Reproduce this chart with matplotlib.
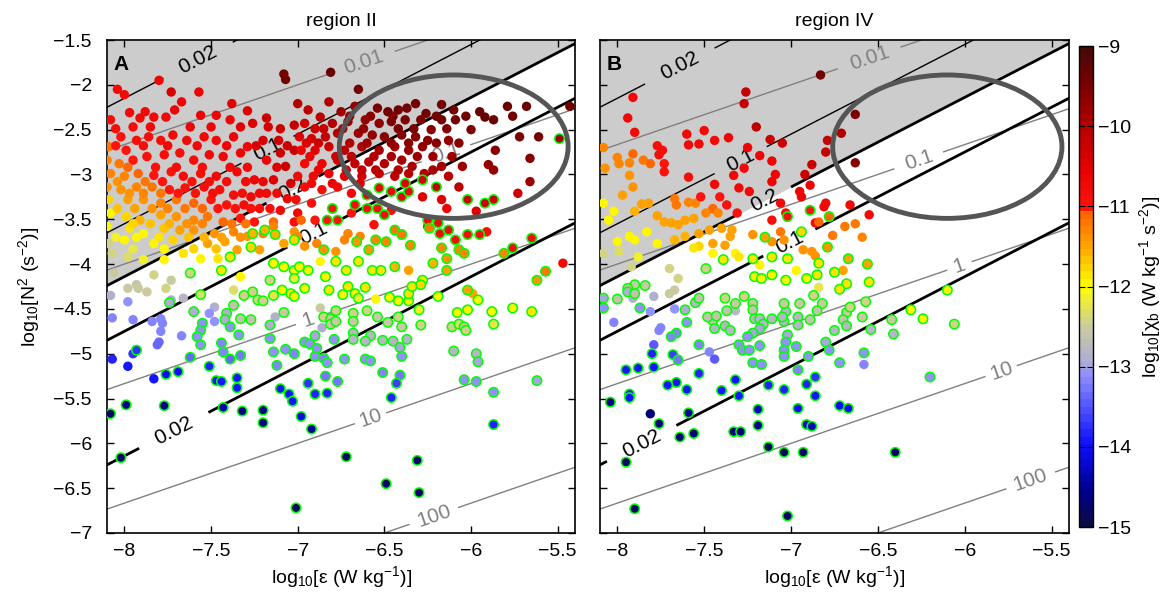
import numpy as np
import matplotlib
matplotlib.use("Agg")
import matplotlib.pyplot as plt
from matplotlib.colors import LinearSegmentedColormap, Normalize
from matplotlib.patches import Ellipse
from matplotlib.ticker import FuncFormatter, MultipleLocator

plt.rcParams['font.family'] = ['Liberation Sans', 'DejaVu Sans']
plt.rcParams['mathtext.default'] = 'regular'
plt.rcParams['axes.linewidth'] = 1.2

# (log10 eps, log10 N^2, log10 chi_b) -- plain markers and green-ringed markers
a_plain = [
    (-8.04,-2.05,-10.7),(-8.00,-2.11,-10.7),(-7.80,-1.95,-10.6),(-7.73,-2.08,-10.4),(-7.57,-2.08,-10.6),(-7.08,-1.88,-9.4),(-7.07,-1.94,-9.4),
    (-7.67,-2.19,-10.6),(-7.71,-2.28,-10.6),(-7.88,-2.30,-10.7),(-7.97,-2.31,-10.7),(-8.08,-2.39,-10.8),(-7.91,-2.37,-10.7),(-7.83,-2.36,-10.7),(-7.76,-2.36,-10.7),
    (-8.05,-2.49,-10.8),(-7.56,-2.34,-10.6),(-7.47,-2.34,-10.6),(-7.38,-2.21,-10.5),(-7.29,-2.29,-10.5),(-7.39,-2.39,-10.6),(-7.18,-2.37,-10.3),(-7.00,-2.21,-10.0),
    (-7.02,-2.45,-10.2),(-7.26,-2.43,-10.5),(-7.10,-2.49,-10.3),(-7.11,-2.62,-10.3),
    (-8.09,-2.69,-11.2),(-8.02,-2.58,-10.9),(-7.99,-2.73,-11.0),(-7.93,-2.62,-10.8),(-7.86,-2.58,-10.8),(-7.79,-2.62,-10.8),(-7.72,-2.56,-10.7),(-7.64,-2.62,-10.7),
    (-7.54,-2.58,-10.7),(-7.47,-2.62,-10.7),(-7.37,-2.58,-10.6),(-7.29,-2.69,-10.6),(-7.20,-2.62,-10.4),(-7.10,-2.76,-10.3),(-7.02,-2.73,-10.2),
    (-8.10,-2.84,-11.3),(-8.03,-2.88,-11.2),(-7.95,-2.84,-11.0),(-7.87,-2.80,-10.9),(-7.77,-2.78,-10.8),(-7.68,-2.76,-10.8),(-7.60,-2.84,-10.8),(-7.51,-2.78,-10.7),
    (-7.43,-2.80,-10.7),(-7.33,-2.76,-10.6),(-7.18,-2.84,-10.6),(-7.07,-2.91,-10.3),
    (-8.08,-2.99,-11.3),(-8.00,-3.02,-11.3),(-7.92,-2.99,-11.1),(-7.83,-3.01,-11.0),(-7.73,-2.97,-10.9),(-7.66,-3.02,-10.8),(-7.56,-2.99,-10.8),(-7.47,-3.02,-10.7),
    (-7.35,-2.97,-10.7),(-7.25,-3.06,-10.6),(-7.14,-3.06,-10.5),(-7.04,-3.10,-10.4),
    (-8.10,-3.14,-11.4),(-8.02,-3.17,-11.4),(-7.93,-3.14,-11.3),(-7.84,-3.14,-11.2),(-7.74,-3.17,-11.0),(-7.65,-3.15,-10.9),(-7.54,-3.14,-10.8),(-7.45,-3.17,-10.8),
    (-7.37,-3.23,-10.8),(-7.27,-3.25,-10.7),(-7.18,-3.21,-10.7),(-7.06,-3.27,-10.6),
    (-8.09,-3.28,-11.8),(-7.98,-3.28,-11.5),(-7.89,-3.28,-11.4),(-7.79,-3.32,-11.3),(-7.70,-3.28,-11.2),(-7.60,-3.32,-11.1),(-7.50,-3.28,-11.0),(-7.41,-3.34,-10.9),
    (-7.31,-3.34,-10.8),(-7.22,-3.38,-10.8),(-7.10,-3.40,-10.7),(-7.00,-3.43,-10.7),
    (-8.08,-3.43,-12.0),(-7.99,-3.47,-11.8),(-7.91,-3.51,-11.6),(-7.79,-3.45,-11.5),(-7.70,-3.47,-11.4),(-7.60,-3.51,-11.3),(-7.52,-3.47,-11.2),(-7.43,-3.53,-11.1),
    (-7.33,-3.49,-11.0),(-7.25,-3.53,-11.0),(-7.14,-3.53,-11.1),(-7.02,-3.53,-10.8),
    (-8.10,-3.58,-12.0),(-7.97,-3.60,-11.9),(-7.89,-3.66,-12.0),(-7.77,-3.60,-11.7),(-7.68,-3.62,-11.5),(-7.60,-3.62,-11.4),(-7.48,-3.66,-11.4),(-7.37,-3.64,-11.3),
    (-7.29,-3.69,-11.4),(-7.20,-3.66,-11.3),(-7.14,-3.58,-11.3),(-7.02,-3.64,-11.4),
    (-8.09,-3.77,-12.4),(-8.00,-3.73,-12.0),(-7.83,-3.77,-12.0),(-7.72,-3.73,-11.8),(-7.66,-3.88,-11.9),(-7.52,-3.77,-11.5),(-7.42,-3.75,-11.5),(-7.35,-3.84,-11.5),
    (-7.22,-3.84,-11.5),(-7.08,-3.77,-11.5),
    (-8.07,-3.88,-12.4),(-7.98,-3.92,-12.3),(-7.89,-3.95,-12.1),(-7.77,-3.95,-12.0),(-7.56,-3.94,-12.0),(-7.46,-3.94,-11.9),
    (-7.33,-4.14,-12.0),(-8.06,-4.10,-12.5),(-7.83,-4.12,-12.4),(-7.73,-4.18,-12.5),(-7.93,-4.23,-12.6),
    (-7.95,-2.47,-10.8),(-7.85,-2.47,-10.7),(-7.62,-2.47,-10.6),(-7.50,-2.47,-10.6),(-7.33,-2.47,-10.5),(-7.17,-2.47,-10.4),
    (-8.05,-2.68,-11.0),(-7.89,-2.68,-10.8),(-7.75,-2.68,-10.7),(-7.58,-2.68,-10.7),(-7.41,-2.68,-10.6),(-7.24,-2.68,-10.5),(-7.06,-2.68,-10.3),
    (-7.98,-2.92,-11.1),(-7.82,-2.92,-10.9),(-7.70,-2.92,-10.8),(-7.55,-2.92,-10.8),(-7.39,-2.92,-10.7),(-7.29,-2.92,-10.7),(-7.12,-2.92,-10.5),
    (-8.04,-3.08,-11.4),(-7.88,-3.08,-11.2),(-7.78,-3.08,-11.0),(-7.61,-3.08,-10.9),(-7.51,-3.08,-10.8),(-7.41,-3.08,-10.8),(-7.30,-3.08,-10.7),(-7.20,-3.08,-10.6),
    (-7.97,-3.21,-11.4),(-7.89,-3.21,-11.3),(-7.79,-3.21,-11.2),(-7.69,-3.21,-11.0),(-7.59,-3.21,-10.9),(-7.49,-3.21,-10.8),(-7.32,-3.21,-10.8),(-7.22,-3.21,-10.7),
    (-7.12,-3.21,-10.7),
    (-8.04,-3.38,-11.7),(-7.94,-3.38,-11.5),(-7.84,-3.38,-11.4),(-7.75,-3.38,-11.3),(-7.65,-3.38,-11.2),(-7.55,-3.38,-11.1),(-7.46,-3.38,-11.0),(-7.36,-3.38,-10.9),
    (-7.27,-3.38,-10.9),(-7.16,-3.38,-10.8),
    (-7.95,-3.55,-11.8),(-7.85,-3.55,-11.7),(-7.74,-3.55,-11.6),(-7.64,-3.55,-11.4),(-7.55,-3.55,-11.3),(-7.38,-3.55,-11.2),(-7.30,-3.55,-11.2),
    (-8.05,-3.70,-12.1),(-7.93,-3.70,-12.0),(-7.80,-3.70,-11.9),(-7.63,-3.70,-11.7),(-7.54,-3.70,-11.6),(-7.44,-3.70,-11.5),(-7.33,-3.70,-11.4),
    (-7.95,-3.83,-12.2),(-7.77,-3.83,-12.0),(-7.60,-3.83,-11.8),(-7.47,-3.83,-11.7),
    (-6.81,-1.86,-9.3),(-6.65,-2.05,-9.4),(-6.82,-2.19,-10.0),(-6.94,-2.28,-10.1),(-6.87,-2.36,-10.1),(-6.75,-2.30,-9.8),(-6.67,-2.24,-9.7),(-6.54,-2.26,-9.5),
    (-6.48,-2.30,-9.4),(-6.42,-2.28,-9.4),(-6.37,-2.26,-9.4),(-6.32,-2.21,-9.4),(-6.26,-2.32,-9.4),(-6.17,-2.22,-9.4),(-6.10,-2.28,-9.4),(-5.95,-2.30,-9.3),
    (-5.92,-2.36,-9.3),(-5.87,-2.39,-9.3),(-6.00,-2.50,-9.5),(-6.17,-2.39,-9.4),(-6.09,-2.39,-9.4),
    (-6.96,-2.43,-10.4),(-6.90,-2.49,-10.3),(-6.80,-2.43,-10.0),(-6.71,-2.41,-9.8),(-6.61,-2.39,-9.7),(-6.53,-2.43,-9.6),(-6.46,-2.41,-9.5),(-6.38,-2.39,-9.5),
    (-6.29,-2.39,-9.5),(-6.23,-2.50,-9.6),
    (-6.99,-2.58,-10.5),(-6.92,-2.60,-10.4),(-6.84,-2.58,-10.2),(-6.77,-2.54,-10.0),(-6.65,-2.54,-9.8),(-6.57,-2.56,-9.7),(-6.50,-2.58,-9.6),(-6.40,-2.56,-9.6),
    (-6.32,-2.58,-9.6),(-6.25,-2.62,-9.6),(-6.13,-2.62,-9.7),(-5.86,-2.73,-9.6),
    (-6.98,-2.73,-10.6),(-6.90,-2.73,-10.5),(-6.82,-2.69,-10.3),(-6.73,-2.73,-10.1),(-6.63,-2.69,-10.0),(-6.53,-2.73,-9.9),(-6.44,-2.69,-9.8),(-6.36,-2.73,-9.8),
    (-6.28,-2.69,-9.7),(-6.11,-2.80,-9.8),(-6.05,-2.91,-9.8),(-5.90,-2.89,-9.7),(-5.87,-2.95,-9.7),
    (-6.96,-2.88,-10.7),(-6.86,-2.88,-10.6),(-6.77,-2.84,-10.4),(-6.67,-2.88,-10.2),(-6.59,-2.86,-10.1),(-6.50,-2.88,-10.0),(-6.40,-2.84,-9.9),(-6.34,-2.91,-9.9),
    (-6.27,-2.99,-10.0),(-6.17,-2.91,-9.9),(-6.13,-3.02,-10.0),
    (-7.00,-3.02,-10.7),(-6.91,-3.02,-10.7),(-6.82,-2.99,-10.6),(-6.73,-3.02,-10.5),(-6.63,-3.02,-10.4),(-6.53,-2.99,-10.2),(-6.44,-3.02,-10.1),(-6.36,-2.99,-10.1),
    (-6.07,-3.14,-10.1),(-5.97,-3.41,-10.5),
    (-6.70,-2.35,-9.8),(-6.58,-2.35,-9.6),(-6.45,-2.35,-9.5),(-6.20,-2.35,-9.4),(-6.03,-2.35,-9.4),
    (-6.85,-2.49,-10.2),(-6.74,-2.49,-9.9),(-6.62,-2.49,-9.7),(-6.42,-2.49,-9.5),(-6.33,-2.49,-9.5),(-6.14,-2.49,-9.5),
    (-6.95,-2.65,-10.5),(-6.88,-2.65,-10.3),(-6.70,-2.65,-10.0),(-6.60,-2.65,-9.8),(-6.46,-2.65,-9.7),(-6.36,-2.65,-9.6),(-6.20,-2.65,-9.6),(-6.07,-2.65,-9.6),
    (-6.93,-2.80,-10.6),(-6.78,-2.80,-10.3),(-6.69,-2.80,-10.1),(-6.56,-2.80,-10.0),(-6.46,-2.80,-9.9),(-6.31,-2.80,-9.8),(-6.22,-2.80,-9.8),
    (-6.88,-2.95,-10.6),(-6.72,-2.95,-10.4),(-6.63,-2.95,-10.2),(-6.55,-2.95,-10.1),(-6.42,-2.95,-10.0),(-6.22,-2.95,-9.9),
    (-6.92,-3.10,-10.7),(-6.80,-3.10,-10.6),(-6.64,-3.10,-10.5),
    (-6.96,-3.14,-10.8),(-6.86,-3.17,-10.8),(-6.77,-3.14,-10.7),(-6.69,-3.21,-10.7),(-6.28,-3.25,-10.5),(-6.17,-3.28,-10.5),(-6.14,-3.38,-10.6),
    (-7.01,-3.28,-10.8),(-6.92,-3.32,-10.9),(-6.46,-3.40,-10.8),(-6.69,-3.43,-10.9),(-6.90,-3.51,-11.0),(-6.98,-3.51,-11.1),(-6.56,-3.56,-10.9),(-6.25,-3.58,-10.7),
    (-5.91,-3.64,-10.8),
    (-7.00,-3.69,-11.3),(-6.96,-3.80,-11.4),(-6.89,-3.77,-11.3),(-6.78,-3.86,-11.4),(-6.73,-3.73,-11.3),(-6.71,-3.66,-11.3),(-6.64,-3.69,-11.3),
    (-6.36,-4.07,-11.5),(-6.87,-3.97,-12.0),
    (-7.98,-4.27,-12.5),(-7.92,-4.27,-12.5),(-7.87,-4.31,-12.5),(-7.76,-4.27,-12.4),(-8.08,-4.35,-12.9),(-7.98,-4.42,-13.1),(-7.73,-4.40,-12.9),(-7.66,-4.38,-12.8),
    (-7.48,-4.48,-12.9),(-7.51,-4.55,-13.1),(-7.48,-4.64,-13.1),(-7.37,-4.29,-12.3),
    (-8.07,-4.60,-13.2),(-7.95,-4.62,-13.2),(-7.84,-4.64,-13.2),(-7.79,-4.61,-13.2),(-7.78,-4.66,-13.2),(-7.79,-4.75,-13.2),(-7.80,-4.87,-13.4),(-7.81,-4.90,-13.4),
    (-7.67,-4.80,-13.2),(-7.95,-5.00,-13.7),(-8.07,-5.06,-13.8),(-7.98,-5.14,-13.9),(-7.83,-5.28,-13.9),(-7.13,-4.59,-12.9),
    (-6.55,-4.39,-12.0),(-5.99,-4.33,-11.5),(-6.87,-4.49,-12.5),(-6.86,-4.71,-12.9),
    (-5.47,-3.99,-10.7),(-5.43,-2.24,-9.4),(-5.68,-2.24,-9.3),(-5.61,-2.58,-9.4),(-5.66,-2.82,-9.6),(-5.66,-3.08,-9.8),(-5.73,-3.21,-10.3),(-5.72,-2.58,-9.5),
    (-5.76,-2.35,-9.4),(-5.79,-2.24,-9.3),
]
a_ring = [
    (-7.39,-3.92,-11.9),(-7.27,-3.81,-11.8),(-7.13,-3.67,-11.6),(-7.19,-3.62,-11.6),(-7.26,-3.66,-11.6),(-7.02,-3.73,-11.8),(-7.14,-3.99,-12.0),(-7.08,-4.03,-12.0),
    (-7.02,-4.07,-12.0),(-7.02,-4.16,-12.1),(-7.44,-4.07,-11.9),(-7.62,-4.10,-12.4),(-7.16,-4.18,-12.4),
    (-6.20,-3.14,-10.2),(-6.02,-3.28,-10.3),(-5.92,-3.32,-10.3),(-5.87,-3.28,-10.3),
    (-6.60,-3.23,-10.6),(-6.53,-3.15,-10.6),(-6.46,-3.19,-10.6),(-6.40,-3.25,-10.6),(-6.36,-3.19,-10.6),(-6.38,-3.10,-10.5),(-6.28,-3.06,-10.4),
    (-6.80,-3.38,-10.9),(-6.67,-3.34,-10.8),(-6.60,-3.38,-10.8),(-6.54,-3.38,-10.8),(-6.50,-3.45,-10.8),(-6.77,-3.51,-10.9),(-6.83,-3.51,-11.0),
    (-6.25,-3.51,-10.7),(-6.19,-3.54,-10.7),(-6.18,-3.66,-10.7),(-6.13,-3.62,-10.7),(-6.02,-3.67,-10.8),(-5.95,-3.67,-10.8),(-6.09,-3.73,-10.8),
    (-6.85,-3.84,-11.4),(-6.66,-3.75,-11.4),(-6.59,-3.84,-11.4),(-6.55,-3.73,-11.3),(-6.49,-3.75,-11.3),(-6.44,-3.62,-11.2),(-6.40,-3.67,-11.2),(-6.35,-3.79,-11.3),
    (-6.24,-3.60,-11.2),(-6.17,-3.82,-11.3),(-6.14,-3.94,-11.4),(-6.07,-3.84,-11.3),(-6.04,-3.88,-11.3),
    (-6.78,-3.97,-11.9),(-6.72,-4.07,-11.9),(-6.65,-3.97,-11.9),(-6.57,-4.07,-11.9),(-6.52,-4.07,-11.9),(-6.44,-4.03,-11.6),(-6.28,-4.18,-12.0),(-6.22,-3.99,-11.6),
    (-6.14,-4.07,-11.5),(-6.94,-4.07,-12.0),(-6.84,-4.14,-12.0),(-6.99,-4.03,-12.0),
    (-7.74,-4.43,-12.9),(-7.56,-4.34,-12.3),(-7.60,-4.53,-12.9),(-7.41,-4.55,-12.9),(-7.37,-4.46,-12.6),(-7.31,-4.35,-12.4),(-7.42,-4.62,-12.9),(-7.39,-4.70,-13.1),
    (-7.33,-4.61,-12.6),(-7.27,-4.62,-12.6),(-7.34,-4.79,-13.1),(-7.44,-4.88,-13.2),(-7.43,-4.98,-13.2),(-7.39,-5.06,-13.4),(-7.33,-5.02,-13.3),(-7.55,-4.66,-13.1),
    (-7.56,-4.74,-13.1),(-7.58,-4.81,-13.1),(-7.56,-4.90,-13.1),
    (-7.93,-4.96,-13.7),(-7.76,-5.23,-14.0),(-7.69,-5.20,-14.0),(-7.62,-5.04,-13.4),(-7.51,-5.14,-13.8),(-7.47,-5.30,-13.9),(-7.44,-5.31,-13.9),(-7.35,-5.27,-13.9),
    (-7.35,-5.38,-13.9),
    (-7.99,-5.57,-14.6),(-8.08,-5.67,-14.8),(-7.77,-5.58,-14.6),(-7.43,-5.60,-14.4),(-7.32,-5.64,-14.6),(-7.20,-5.63,-14.6),(-7.20,-5.77,-14.6),(-8.02,-6.16,-14.8),
    (-7.01,-6.72,-14.9),
    (-7.14,-4.98,-13.1),(-7.12,-5.13,-13.2),(-7.07,-4.95,-13.1),(-7.02,-5.00,-13.2),(-7.16,-4.68,-12.9),(-7.16,-4.83,-13.1),(-7.10,-5.39,-13.9),(-7.05,-5.45,-13.9),
    (-7.03,-5.53,-13.9),
    (-7.26,-4.31,-12.4),(-7.23,-4.40,-12.4),(-7.20,-4.41,-12.4),(-7.14,-4.35,-12.2),(-7.09,-4.29,-12.0),(-7.04,-4.33,-12.0),(-7.02,-4.36,-12.0),(-7.08,-4.54,-12.5),
    (-6.96,-4.27,-12.0),(-6.82,-4.29,-11.9),(-6.74,-4.34,-12.0),(-6.71,-4.25,-11.9),(-6.67,-4.33,-12.0),(-6.65,-4.38,-12.1),(-6.61,-4.26,-11.9),(-6.47,-4.37,-12.0),
    (-6.42,-4.41,-12.0),(-6.36,-4.41,-12.0),(-6.36,-4.33,-11.9),(-6.34,-4.25,-11.9),(-6.29,-4.23,-11.8),(-6.19,-4.36,-12.0),(-6.02,-4.29,-11.5),(-5.96,-4.40,-12.0),
    (-6.02,-4.51,-12.0),(-6.08,-4.54,-12.0),(-5.88,-4.53,-12.0),(-5.87,-4.67,-12.2),(-6.11,-4.70,-12.4),(-6.07,-4.67,-12.3),(-6.04,-4.70,-12.4),(-6.03,-4.74,-12.4),
    (-6.10,-4.97,-12.8),(-5.97,-5.00,-12.8),(-5.96,-5.09,-13.0),(-6.04,-5.29,-13.1),(-5.97,-5.31,-13.1),(-5.87,-5.43,-13.1),(-5.87,-5.79,-13.8),
    (-6.85,-4.59,-12.4),(-6.81,-4.61,-12.5),(-6.81,-4.67,-12.5),(-6.78,-4.52,-12.4),(-6.78,-4.64,-12.5),(-6.68,-4.55,-12.4),(-6.68,-4.64,-12.5),(-6.68,-4.77,-12.8),
    (-6.68,-4.84,-12.8),(-6.60,-4.52,-12.4),(-6.54,-4.59,-12.5),(-6.48,-4.65,-12.5),(-6.42,-4.59,-12.4),(-6.40,-4.70,-12.5),(-6.29,-4.68,-12.4),(-6.30,-4.51,-12.1),
    (-6.58,-4.80,-12.8),(-6.61,-4.86,-12.8),(-6.51,-4.85,-12.8),(-6.45,-4.86,-12.8),(-6.37,-4.84,-12.8),(-6.41,-4.93,-13.0),(-6.40,-5.03,-13.1),(-6.61,-5.06,-13.1),
    (-6.58,-5.08,-13.1),(-6.73,-5.06,-13.1),(-6.90,-4.80,-13.0),(-6.79,-4.84,-13.1),(-6.96,-4.87,-13.1),(-6.93,-4.89,-13.1),(-6.89,-4.94,-13.1),(-6.90,-5.03,-13.1),
    (-6.85,-5.05,-13.2),(-6.83,-5.10,-13.1),(-6.84,-5.25,-13.3),(-6.77,-5.31,-13.3),(-6.94,-5.33,-13.7),(-6.90,-5.45,-13.8),(-6.83,-5.44,-13.8),(-6.51,-5.21,-13.2),
    (-6.41,-5.24,-13.3),(-6.43,-5.33,-13.6),(-6.46,-5.49,-13.8),
    (-6.98,-5.70,-14.1),(-6.92,-5.84,-14.5),(-6.72,-6.15,-14.8),(-6.31,-6.19,-14.8),(-6.49,-6.45,-14.8),(-6.30,-6.55,-14.8),
    (-5.81,-3.88,-11.3),(-5.76,-3.82,-10.8),(-5.65,-3.71,-10.8),(-5.62,-4.18,-11.4),(-5.57,-4.08,-11.2),(-5.49,-2.60,-9.8),(-5.76,-4.49,-12.0),(-5.65,-4.53,-11.9),
    (-5.62,-5.30,-13.0),
]
b_plain = [
    (-7.91,-2.14,-10.7),(-7.94,-2.37,-10.7),(-7.90,-2.53,-10.7),(-7.26,-2.08,-10.2),(-7.27,-2.21,-10.2),(-7.20,-2.47,-10.1),(-7.60,-2.55,-10.7),(-7.59,-2.67,-10.7),
    (-7.53,-2.66,-10.7),(-7.50,-2.51,-10.7),(-7.44,-2.62,-10.7),(-7.36,-2.59,-10.6),(-7.12,-2.61,-10.3),(-7.05,-2.65,-10.3),(-7.18,-2.79,-10.6),(-7.11,-2.85,-10.6),
    (-7.25,-2.70,-10.6),(-7.77,-2.68,-10.8),(-7.74,-2.73,-10.8),(-7.76,-2.78,-10.8),
    (-8.08,-2.70,-11.3),(-8.00,-2.81,-11.3),(-7.91,-2.77,-11.1),(-8.07,-2.93,-11.4),(-7.99,-2.88,-11.3),(-7.93,-2.87,-11.3),(-7.85,-2.84,-11.2),(-7.81,-2.88,-11.1),
    (-7.73,-2.88,-11.0),(-7.73,-2.97,-10.9),(-7.93,-3.01,-11.4),(-7.59,-3.03,-10.8),(-7.33,-3.01,-10.7),(-7.27,-2.93,-10.7),(-7.44,-3.11,-10.7),(-7.30,-3.15,-10.7),
    (-7.24,-3.19,-10.7),(-7.11,-3.08,-10.6),(-7.09,-3.00,-10.6),(-6.92,-3.00,-10.3),(-6.88,-2.89,-10.3),(-6.95,-3.19,-10.6),(-6.94,-3.25,-10.6),(-6.86,-3.54,-10.8),
    (-7.97,-3.23,-11.5),(-7.91,-3.14,-11.4),(-7.86,-3.33,-11.5),(-7.82,-3.32,-11.5),(-7.67,-3.27,-11.2),(-7.66,-3.34,-11.2),(-7.59,-3.31,-11.3),(-7.55,-3.32,-11.3),
    (-7.52,-3.25,-11.0),(-7.41,-3.25,-11.0),(-7.45,-3.38,-11.1),(-7.37,-3.34,-10.9),(-7.31,-3.43,-10.9),(-7.49,-3.43,-11.3),(-7.42,-3.43,-11.3),(-7.11,-3.51,-10.8),
    (-7.06,-3.32,-10.7),(-7.03,-3.43,-10.8),(-7.06,-3.64,-11.2),(-7.11,-3.75,-11.4),
    (-8.08,-3.32,-12.0),(-8.02,-3.41,-12.0),(-8.05,-3.51,-12.0),(-7.90,-3.41,-11.6),(-7.77,-3.46,-11.5),(-7.73,-3.53,-11.5),(-7.69,-3.54,-11.5),(-7.65,-3.56,-11.5),
    (-7.61,-3.51,-11.5),(-7.56,-3.49,-11.5),
    (-7.83,-3.64,-12.0),(-7.93,-3.69,-12.0),(-7.90,-3.73,-12.0),(-8.00,-3.75,-12.0),(-7.77,-3.77,-12.0),(-7.67,-3.73,-11.6),(-7.61,-3.69,-11.6),(-7.53,-3.66,-11.5),
    (-7.47,-3.62,-11.5),(-7.40,-3.60,-11.5),(-7.34,-3.62,-11.5),(-7.35,-3.69,-11.5),(-7.45,-3.77,-11.5),(-7.38,-3.79,-11.5),(-7.53,-3.80,-11.8),(-7.56,-3.82,-11.9),
    (-8.08,-3.88,-12.4),(-7.99,-3.86,-12.3),(-7.92,-4.03,-12.4),(-7.88,-3.92,-12.1),(-7.70,-4.05,-12.4),(-7.65,-4.16,-12.4),(-7.45,-3.88,-12.0),(-7.32,-3.88,-12.0),
    (-7.22,-3.67,-11.4),(-7.18,-4.01,-12.0),(-7.04,-3.73,-11.4),(-6.93,-3.84,-11.4),(-7.30,-3.92,-11.9),(-6.97,-4.07,-12.0),
    (-8.02,-4.65,-13.2),(-7.91,-4.38,-12.9),(-7.79,-4.36,-12.9),(-7.81,-4.53,-13.1),(-7.70,-4.33,-12.5),(-7.67,-4.29,-12.5),(-7.67,-4.50,-13.1),(-7.75,-4.71,-13.2),
    (-7.76,-4.74,-13.2),(-7.79,-4.90,-13.5),(-7.47,-4.98,-13.2),(-7.44,-5.06,-13.5),(-7.32,-4.52,-12.8),(-7.81,-5.67,-14.7),
    (-6.79,-2.62,-10.2),(-6.71,-2.54,-10.0),(-6.80,-2.75,-10.2),(-6.63,-2.87,-9.6),(-6.89,-3.12,-10.6),(-6.80,-3.32,-10.7),(-6.81,-3.36,-10.7),(-6.66,-3.34,-10.7),
    (-6.55,-3.45,-10.7),(-6.84,-3.53,-11.1),(-6.69,-3.58,-11.2),(-6.63,-3.55,-11.2),(-6.76,-3.68,-11.2),(-6.59,-3.70,-11.3),(-6.88,-3.86,-11.4),(-6.86,-3.91,-11.4),
    (-6.70,-4.07,-11.5),(-6.84,-4.26,-12.2),(-6.58,-5.12,-13.2),(-6.83,-1.89,-9.4),(-6.63,-2.33,-9.5),
]
b_ring = [
    (-7.15,-3.70,-11.5),(-6.94,-3.64,-11.8),(-6.89,-3.40,-11.0),(-7.02,-3.47,-10.8),(-7.02,-3.94,-11.9),(-7.11,-3.92,-11.9),(-7.22,-3.94,-11.9),(-7.39,-3.95,-11.9),
    (-7.49,-4.05,-12.4),(-7.21,-4.14,-12.0),(-7.17,-4.16,-12.0),(-7.11,-4.12,-12.0),(-7.03,-4.18,-12.0),(-6.91,-4.16,-12.0),(-7.90,-4.23,-12.5),(-7.84,-4.24,-12.5),
    (-7.94,-4.27,-12.6),
    (-8.08,-4.38,-13.0),(-8.00,-4.39,-12.6),(-8.08,-4.49,-13.1),(-7.94,-4.31,-12.9),(-7.90,-4.33,-12.6),(-7.87,-4.49,-13.1),(-7.66,-4.77,-13.2),(-7.69,-4.81,-13.2),
    (-7.80,-5.00,-13.8),(-7.88,-5.16,-13.9),(-7.79,-5.15,-13.9),(-7.95,-5.18,-13.9),(-7.68,-5.01,-13.6),(-7.65,-5.07,-13.3),(-7.61,-4.51,-12.9),(-7.55,-4.43,-12.8),
    (-7.60,-4.65,-13.1),(-7.53,-4.38,-12.6),(-7.53,-4.90,-13.2),(-7.45,-4.63,-12.6),(-7.48,-4.59,-12.6),(-7.44,-4.72,-12.8),(-7.43,-4.58,-12.6),(-7.38,-4.69,-12.8),
    (-7.37,-4.52,-12.6),(-7.35,-4.74,-12.8),(-7.38,-4.38,-12.4),(-7.32,-4.44,-12.5),(-7.27,-4.36,-12.4),(-7.22,-4.44,-12.5),(-7.22,-4.51,-12.6),(-7.21,-4.61,-12.8),
    (-7.18,-4.61,-12.8),(-7.11,-4.61,-12.8),(-7.16,-4.67,-12.8),(-7.18,-4.72,-13.0),(-7.22,-4.77,-13.0),(-7.25,-4.81,-13.1),(-7.30,-4.90,-13.1),(-7.28,-4.96,-13.1),
    (-7.24,-4.96,-13.1),(-7.18,-4.91,-13.1),(-7.22,-5.10,-13.1),(-7.17,-5.12,-13.1),(-7.13,-5.35,-13.8),(-7.53,-5.22,-13.8),(-7.66,-5.32,-13.9),(-7.71,-5.35,-13.9),
    (-7.60,-5.40,-13.9),(-7.40,-5.41,-13.9),(-7.30,-5.47,-13.9),(-7.32,-5.29,-13.9),(-7.93,-5.45,-13.9),(-7.93,-5.49,-13.9),(-8.04,-5.54,-14.6),(-7.76,-5.78,-14.7),
    (-7.59,-5.66,-14.5),(-7.64,-5.93,-14.7),(-7.56,-5.89,-14.7),(-7.33,-5.87,-14.7),(-7.29,-5.87,-14.7),(-7.19,-5.62,-14.3),(-7.19,-5.80,-14.6),(-7.13,-6.04,-14.8),
    (-7.95,-6.21,-14.8),(-7.90,-6.73,-14.8),
    (-6.78,-3.47,-11.1),(-6.79,-3.81,-11.4),(-6.67,-3.94,-11.5),(-6.56,-4.00,-11.5),(-6.84,-3.99,-11.9),(-6.85,-4.12,-11.9),(-6.75,-4.09,-11.9),(-6.68,-4.22,-11.9),
    (-6.72,-4.28,-11.9),(-6.55,-4.20,-11.9),(-6.87,-4.35,-12.4),(-6.82,-4.44,-12.5),(-6.85,-4.52,-12.6),(-6.68,-4.54,-12.5),(-6.70,-4.62,-12.6),(-6.66,-4.48,-12.4),
    (-6.57,-4.42,-12.4),(-6.59,-4.59,-12.5),(-6.54,-4.73,-12.8),(-6.68,-4.69,-12.8),(-6.75,-4.74,-12.8),(-6.41,-4.78,-12.8),(-6.42,-4.62,-12.5),(-6.31,-4.51,-12.0),
    (-6.24,-4.61,-12.0),(-6.10,-4.29,-12.0),(-6.06,-4.67,-12.4),(-6.80,-4.87,-13.0),(-6.78,-4.96,-13.1),(-6.58,-4.99,-13.1),(-6.72,-5.10,-13.1),(-6.90,-5.03,-13.1),
    (-6.96,-5.18,-13.2),(-6.86,-5.26,-13.7),(-6.91,-5.34,-13.8),(-6.86,-5.47,-13.9),(-6.20,-5.26,-13.1),(-6.96,-5.61,-14.0),(-6.72,-5.58,-14.0),(-6.67,-5.61,-14.0),
    (-6.91,-5.79,-14.2),(-6.88,-5.81,-14.3),(-7.04,-6.10,-14.8),(-6.93,-6.10,-14.8),(-6.40,-6.10,-14.8),(-7.02,-6.81,-14.8),
    (-7.03,-4.53,-12.8),(-7.04,-4.64,-12.8),(-7.02,-4.79,-13.0),(-7.03,-4.87,-13.1),(-7.04,-4.96,-13.1),(-7.04,-5.03,-13.1),(-6.97,-4.92,-13.1),(-6.96,-4.59,-12.8),
    (-6.96,-4.68,-12.8),(-6.95,-4.44,-12.5),(-7.04,-4.44,-12.5),(-6.89,-4.62,-12.6),(-7.05,-4.59,-12.8),(-7.04,-5.40,-13.8),
]

# Ozmidov length contours (m): log N^2 = (2/3) log eps - (4/3) log L
ozmidov_scales = [0.01, 0.1, 1, 10, 100]
ozmidov_labels = ['0.01', '0.1', '1', '10', '100']
# constant Re_b lines (slope 1) labelled by mixing efficiency
gamma_offsets = [5.85, 4.45, 3.86, 3.25, 1.86]
gamma_labels = ['0.02', '0.1', '0.2', '0.1', '0.02']

XLIM = (-8.1, -5.4)
YLIM = (-7.0, -1.5)
FS = 14

# colour map for log10 chi_b
cmap_stops = [
    (-15.0, (0.04, 0.04, 0.28)),
    (-14.6, (0.00, 0.00, 0.55)),
    (-14.0, (0.05, 0.05, 1.00)),
    (-13.05, (0.60, 0.60, 1.00)),
    (-13.0, (0.66, 0.66, 0.86)),
    (-12.5, (0.80, 0.80, 0.62)),
    (-12.0, (1.00, 1.00, 0.00)),
    (-11.5, (1.00, 0.65, 0.00)),
    (-11.05, (1.00, 0.38, 0.00)),
    (-11.0, (1.00, 0.08, 0.05)),
    (-10.5, (0.90, 0.00, 0.00)),
    (-10.0, (0.72, 0.00, 0.00)),
    (-9.5, (0.50, 0.00, 0.00)),
    (-9.0, (0.28, 0.03, 0.03)),
]
cmap = LinearSegmentedColormap.from_list(
    'chi', [((v + 15) / 6, c) for v, c in cmap_stops], N=64)
norm = Normalize(-15, -9)


def tick_fmt(v, pos):
    return ('%g' % v).replace('-', '\u2212')


def labelled_line(ax, slope, icpt, xc, half, text, color, lw, fs):
    for a, b in ((XLIM[0] - 0.1, xc - half), (xc + half, XLIM[1] + 0.1)):
        xs = np.array([a, b])
        ax.plot(xs, slope * xs + icpt, color=color, lw=lw, zorder=2,
                solid_capstyle='butt')
    ax.text(xc, slope * xc + icpt, text, color=color, fontsize=fs,
            rotation=np.degrees(np.arctan(slope)), rotation_mode='anchor',
            transform_rotates_text=True, ha='center', va='center', zorder=2)


def dots(ax, pts, ringed):
    arr = np.array(pts)
    if ringed:
        kw = dict(edgecolors='#00ff00', linewidths=1.1)
    else:
        kw = dict(edgecolors='none')
    return ax.scatter(arr[:, 0], arr[:, 1], c=arr[:, 2], cmap=cmap, norm=norm,
                      s=46, zorder=3, **kw)


def panel(ax, plain, ringed, oz_x, gam_x, letter, title):
    xs = np.array(XLIM)
    ax.fill_between(xs, xs + gamma_offsets[2], YLIM[1], color='#cccccc', lw=0, zorder=0)

    oz_half = [0.18, 0.14, 0.07, 0.09, 0.14]
    for L, lab, xc, h in zip(ozmidov_scales, ozmidov_labels, oz_x, oz_half):
        labelled_line(ax, 2 / 3, -4 / 3 * np.log10(L), xc, h, lab, '#808080', 1.0, FS + 1)

    gam_half = [0.2, 0.15, 0.15, 0.15, 0.2]
    gam_lw = [1.0, 1.0, 2.0, 2.0, 2.0]
    for c, lab, xc, h, lw in zip(gamma_offsets, gamma_labels, gam_x, gam_half, gam_lw):
        labelled_line(ax, 1.0, c, xc, h, lab, 'black', lw, FS + 1)

    dots(ax, plain, False)
    sc = dots(ax, ringed, True)

    ax.add_patch(Ellipse((-6.10, -2.69), 1.32, 1.6, fill=False, ec='#555555',
                         lw=3.5, zorder=5))

    ax.text(-8.06, -1.77, letter, fontsize=FS + 1, fontweight='bold',
            ha='left', va='center', zorder=6)
    ax.set_xlim(*XLIM)
    ax.set_ylim(*YLIM)
    ax.xaxis.set_major_locator(MultipleLocator(0.5))
    ax.yaxis.set_major_locator(MultipleLocator(0.5))
    ax.xaxis.set_major_formatter(FuncFormatter(tick_fmt))
    ax.yaxis.set_major_formatter(FuncFormatter(tick_fmt))
    ax.tick_params(direction='in', top=True, right=True, length=5, width=1,
                   labelsize=FS)
    ax.tick_params(axis='y', pad=11)
    ax.tick_params(axis='x', pad=7)
    ax.set_title(title, fontsize=FS, pad=10)
    ax.set_xlabel('log$_{10}$[ε (W kg$^{-1}$)]', fontsize=FS, labelpad=3)
    return sc


fig = plt.figure(figsize=(11.75, 5.99), dpi=100)
ax_a = fig.add_axes([0.0911, 0.1102, 0.3983, 0.8230])
ax_b = fig.add_axes([0.5106, 0.1102, 0.3991, 0.8230])
cax = fig.add_axes([0.9183, 0.1202, 0.0119, 0.8030])

panel(ax_a, a_plain, a_ring, [-6.62, -6.145, -6.94, -6.58, -6.215],
      [-7.575, -7.175, -7.03, -6.91, -7.715], 'A', 'region II')
sc = panel(ax_b, b_plain, b_ring, [-6.55, -6.265, -6.03, -5.79, -5.62],
           [-7.64, -7.29, -7.15, -7.01, -7.86], 'B', 'region IV')
ax_a.set_ylabel('log$_{10}$[N$^2$ (s$^{-2}$)]', fontsize=FS, labelpad=8)
ax_b.tick_params(labelleft=False)

cb = fig.colorbar(sc, cax=cax, ticks=range(-15, -8))
cb.ax.yaxis.set_major_formatter(FuncFormatter(tick_fmt))
cb.ax.tick_params(direction='in', left=True, right=True, length=4, labelsize=FS)
cb.outline.set_linewidth(1.0)
cb.set_label('log$_{10}$[χ$_b$ (W kg$^{-1}$ s$^{-2}$)]', fontsize=FS, labelpad=4)

fig.savefig('out.png', dpi=100)
